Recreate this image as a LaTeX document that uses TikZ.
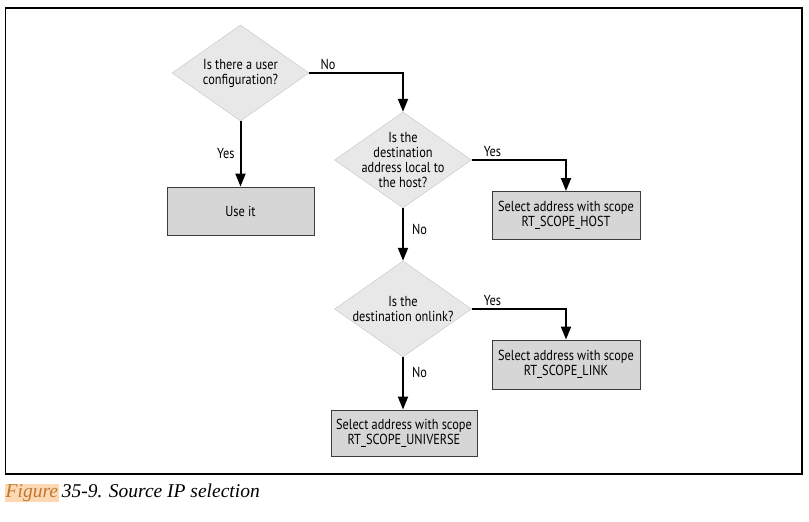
\documentclass[tikz,border=0pt]{standalone}
\usepackage{fontspec}
\setmainfont{PT Sans}[FakeStretch=0.85]
\newfontfamily\capfont{Liberation Serif}
\usetikzlibrary{shapes.geometric, arrows.meta}
\definecolor{decfill}{HTML}{E8E8E8}
\definecolor{decline}{HTML}{C4C4C4}
\definecolor{boxfill}{HTML}{D6D6D6}
\definecolor{boxline}{HTML}{3C3C3C}
\definecolor{figtext}{HTML}{C0782E}
\definecolor{fighl}{HTML}{FCD8B4}

\begin{document}
\begin{tikzpicture}[x=1pt, y=-1pt, every node/.style={font=\fontsize{14.5}{15}\selectfont}]
\tikzstyle{decision}=[diamond, fill=decfill, draw=decline, minimum width=137pt, minimum height=96pt, inner sep=0pt]
\tikzstyle{qtext}=[align=center, inner sep=0pt]
\tikzstyle{box}=[draw=boxline, fill=boxfill, line width=0.9pt, align=center, minimum width=147pt, minimum height=48pt]
\tikzstyle{arr}=[-{Triangle[length=13pt, width=10pt]}, line width=2pt]
\tikzstyle{lbl}=[inner sep=2pt]
\useasboundingbox (0,0) rectangle (809,522);
\draw[line width=1.5pt] (5.5,8) rectangle (802,474);

\node[decision, label={[qtext]center:Is there a user\\configuration?}] (q1) at (240.5,73) {};
\node[decision, label={[qtext]center:Is the\\destination\\address local to\\the host?}] (q2) at (403,160) {};
\node[decision, label={[qtext]center:Is the\\destination onlink?}] (q3) at (403,309) {};

\node[box] (use) at (240.5,211) {Use it};
\node[box, minimum width=148pt] (host) at (566,215.5) {Select address with scope\\RT\_SCOPE\_HOST};
\node[box, minimum width=148pt, minimum height=49pt] (link) at (566,364.5) {Select address with scope\\RT\_SCOPE\_LINK};
\node[box, minimum width=146pt, minimum height=46pt] (univ) at (404,433) {Select address with scope\\RT\_SCOPE\_UNIVERSE};

\draw[arr] (q1.east) -| node[lbl, pos=0.1, above] (no1) {No} (q2.north);
\draw[arr] (q1.south) -- node[lbl, left=3pt] (yes1) {Yes} (use.north);
\draw[arr] (q2.east) -| node[lbl, pos=0.11, above] (yes2) {Yes} (host.north);
\draw[arr] (q2.south) -- node[lbl, pos=0.4, right=6pt] (no2) {No} (q3.north);
\draw[arr] (q3.east) -| node[lbl, pos=0.11, above] (yes3) {Yes} (link.north);
\draw[arr] (q3.south) -- node[lbl, pos=0.3, right=6pt] (no3) {No} (univ.north -| q3.south);

\node[anchor=west, inner sep=0pt, font=\capfont\itshape\fontsize{19.5}{22}\selectfont] (cap) at (5,493)
  {{\fboxsep=0.5pt\colorbox{fighl}{\textcolor{figtext}{Figure}}}\,35-9. Source IP selection};
\end{tikzpicture}
\end{document}
